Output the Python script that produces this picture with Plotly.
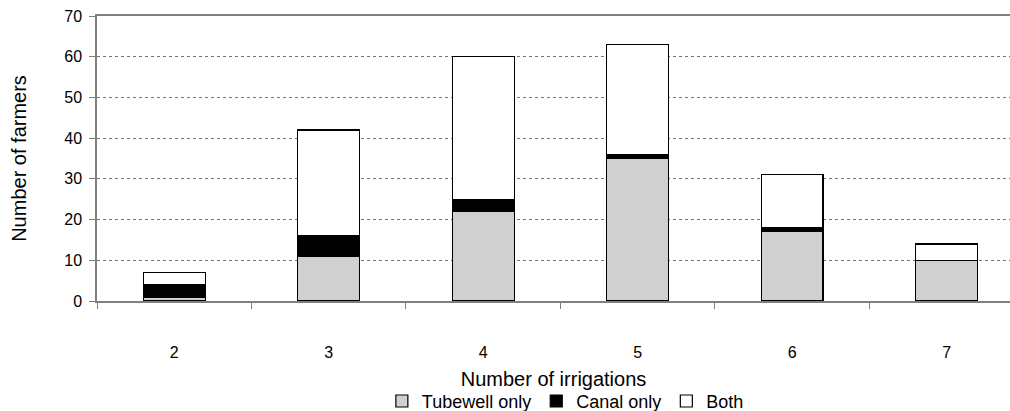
import plotly.graph_objects as go

categories = ["2", "3", "4", "5", "6", "7"]
tubewell_only = [1, 11, 22, 35, 17, 10]
canal_only = [3, 5, 3, 1, 1, 0]
both = [3, 26, 35, 27, 13, 4]

series = [
    ("Tubewell only", tubewell_only, "#d0d0d0"),
    ("Canal only", canal_only, "#000000"),
    ("Both", both, "#ffffff"),
]

fig = go.Figure()
for name, vals, color in series:
    fig.add_trace(go.Bar(
        x=categories, y=vals, name=name, width=0.4,
        marker=dict(color=color, line=dict(color="#000000", width=1.2)),
    ))

font = "Liberation Sans, Arial, sans-serif"
fig.update_layout(
    width=1010, height=411,
    barmode="stack",
    plot_bgcolor="white", paper_bgcolor="white",
    margin=dict(l=97, r=0, t=16, b=110, autoexpand=False),
    font=dict(family=font, color="#000000"),
    showlegend=True,
    legend=dict(orientation="h", x=0.513, xanchor="center", y=-0.352, yanchor="middle",
                font=dict(size=18), itemwidth=30, traceorder="normal"),
    xaxis=dict(
        type="category", range=[-0.5, 5.41], automargin=False,
        showline=True, linecolor="#808080", linewidth=1.5, mirror=True,
        ticks="outside", tickson="boundaries", ticklen=6, tickcolor="#808080",
        tickfont=dict(size=16), ticklabelstandoff=36,
        title=dict(text="Number of irrigations", font=dict(size=20), standoff=12),
        showgrid=False,
    ),
    yaxis=dict(
        range=[0, 70], dtick=10, automargin=False,
        showline=True, linecolor="#808080", linewidth=1.5,
        ticks="outside", ticklen=6, tickcolor="#808080",
        tickfont=dict(size=16), ticklabelstandoff=4,
        showgrid=True, gridcolor="#777777", griddash="dot", gridwidth=1,
        zeroline=False,
        title=dict(text="Number of farmers", font=dict(size=20), standoff=32),
    ),
)

fig.write_html(
    "out.html",
    config={"displayModeBar": False},
    post_script="document.body.style.margin='0';document.body.style.overflow='hidden';",
)
